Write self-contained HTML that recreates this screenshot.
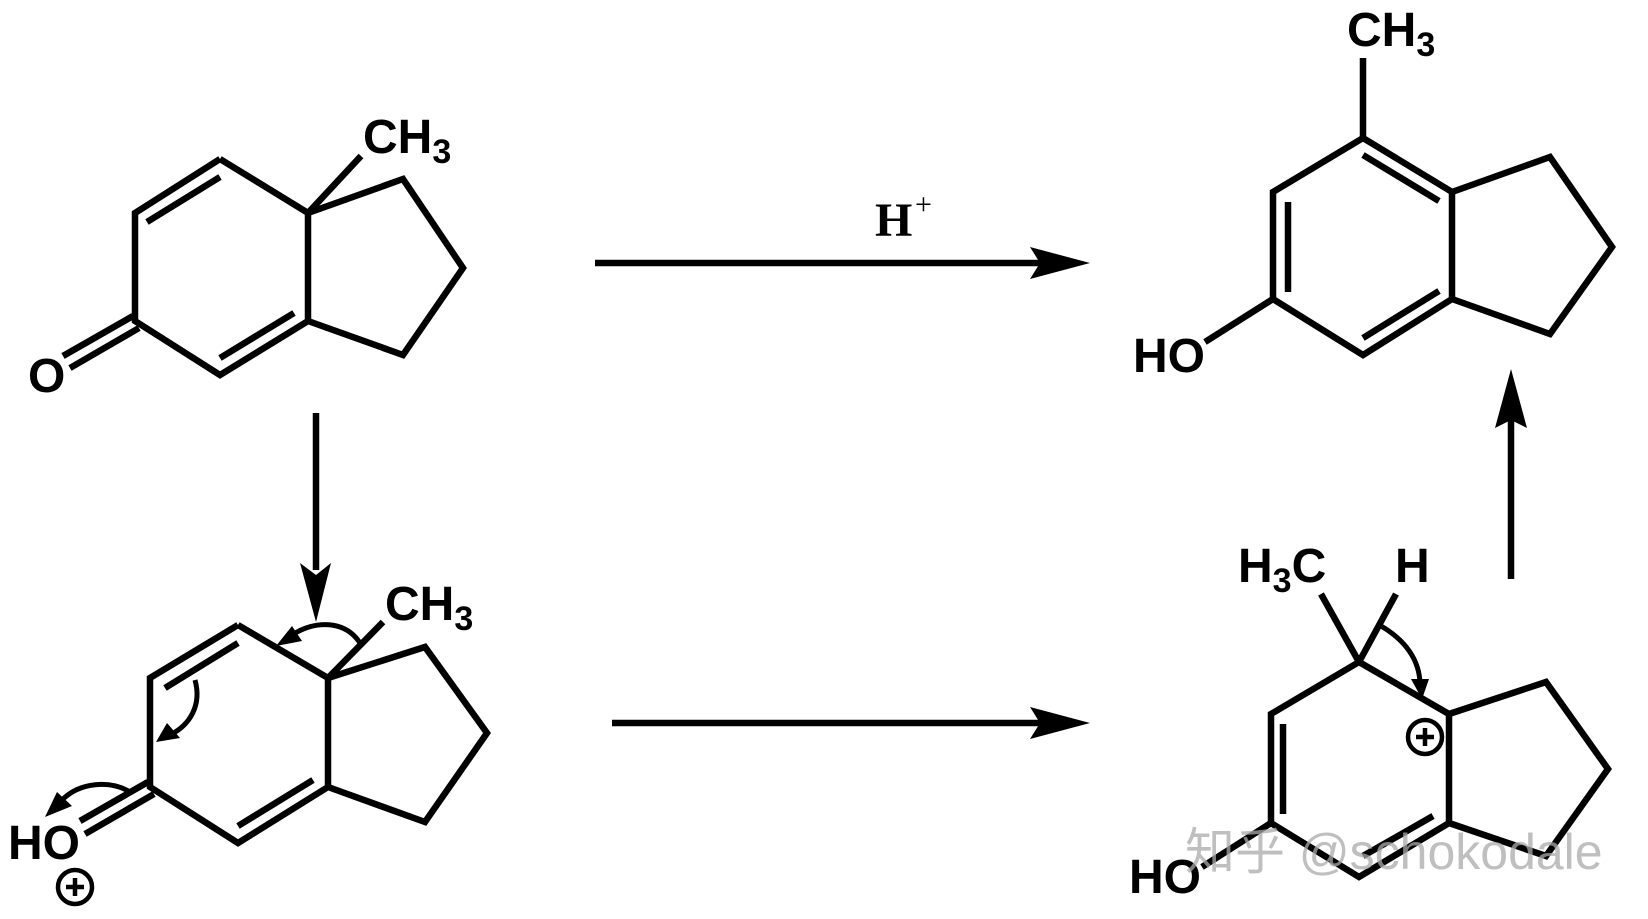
<!DOCTYPE html>
<html><head><meta charset="utf-8"><style>
html,body{margin:0;padding:0;background:#fff;width:1648px;height:919px;overflow:hidden}
svg{display:block}
.t{font-family:"Liberation Sans",sans-serif;font-weight:bold;fill:#000}
</style></head><body>
<svg width="1648" height="919" viewBox="0 0 1648 919" xmlns="http://www.w3.org/2000/svg">
<g stroke="#000" stroke-width="6.5" fill="none" stroke-linejoin="miter" stroke-linecap="butt">
<polyline points="220,159 135,213 135,321 220,375 308,321 308,213 220,159"/>
<polyline points="308,213 403,179 463,268 403,355 308,321"/>
<line x1="308" y1="213" x2="361" y2="156"/>
<line x1="147" y1="222" x2="220" y2="177"/>
<line x1="220" y1="358" x2="294" y2="313"/>
<line x1="133" y1="316" x2="63" y2="356"/>
<line x1="139" y1="328" x2="70" y2="368"/>
<polyline points="238,625 150,678 150,787 238,843 328,787 328,678 238,625"/>
<polyline points="328,678 425,647 487,733 425,822 328,787"/>
<line x1="328" y1="678" x2="383" y2="622"/>
<line x1="165" y1="688" x2="238" y2="643"/>
<line x1="238" y1="826" x2="313" y2="780"/>
<line x1="148" y1="782" x2="80" y2="821"/>
<line x1="154" y1="794" x2="85" y2="834"/>
<polyline points="1363,138 1273,192 1273,299 1363,355 1452,299 1452,192 1363,138"/>
<polyline points="1452,192 1550,157 1612,247 1550,334 1452,299"/>
<line x1="1363" y1="138" x2="1363" y2="58"/>
<line x1="1288" y1="202" x2="1288" y2="292"/>
<line x1="1363" y1="155" x2="1439" y2="201"/>
<line x1="1363" y1="338" x2="1439" y2="291"/>
<line x1="1273" y1="299" x2="1205" y2="342"/>
<polyline points="1359,662 1271,714 1271,823 1359,877 1449,823 1449,714 1359,662"/>
<polyline points="1449,714 1546,682 1608,769 1546,856 1449,823"/>
<line x1="1359" y1="662" x2="1321" y2="594"/>
<line x1="1359" y1="662" x2="1396" y2="594"/>
<line x1="1283" y1="724" x2="1283" y2="814"/>
<line x1="1363" y1="856" x2="1433" y2="816"/>
<line x1="1271" y1="823" x2="1202" y2="867"/>
<line x1="595" y1="263" x2="1045" y2="263"/>
<line x1="612" y1="723" x2="1045" y2="723"/>
<line x1="1511" y1="579" x2="1511" y2="415"/>
<line x1="316" y1="413" x2="316" y2="570"/>
</g>
<g fill="#000">
<polygon points="1090,263 1030,247 1040,263 1030,279"/>
<polygon points="1090,723 1030,707 1040,723 1030,739"/>
<polygon points="1511,369 1495,428 1511,420 1527,428"/>
<polygon points="316,622 300,563 316,575 331,563"/>
</g>
<g stroke="#000" stroke-width="5" fill="none">
<path d="M360,643 C345,620 315,620 292,635"/>
<path d="M195,680 C202,705 190,725 170,735"/>
<path d="M130,792 C110,780 80,782 62,800"/>
<path d="M1381,626 C1405,640 1420,660 1420,685"/>
</g>
<g fill="#000">
<polygon points="276,646 292,626 302,641"/>
<polygon points="156,742 167,723 180,738"/>
<polygon points="45,817 57,792 72,806"/>
<polygon points="1422,699 1411,679 1429,679"/>
</g>
<g stroke="#000" stroke-width="4.5" fill="none">
<circle cx="75" cy="887" r="17"/>
<circle cx="1425" cy="737" r="17"/>
</g>
<g stroke="#000" stroke-width="4.5">
<line x1="66" y1="887" x2="84" y2="887"/><line x1="75" y1="878" x2="75" y2="896"/>
<line x1="1416" y1="737" x2="1434" y2="737"/><line x1="1425" y1="728" x2="1425" y2="746"/>
</g>
<text class="t" x="363" y="153" font-size="48">CH<tspan font-size="34" dy="10">3</tspan></text>
<text class="t" x="28" y="392" font-size="48">O</text>
<text class="t" x="385" y="620" font-size="48">CH<tspan font-size="34" dy="10">3</tspan></text>
<text class="t" x="8" y="859" font-size="48">HO</text>
<text class="t" x="1347" y="46" font-size="48">CH<tspan font-size="34" dy="10">3</tspan></text>
<text class="t" x="1133" y="372" font-size="48">HO</text>
<text class="t" x="1238" y="582" font-size="48">H<tspan font-size="34" dy="10">3</tspan><tspan dy="-10">C</tspan></text>
<text class="t" x="1395" y="582" font-size="48">H</text>
<text class="t" x="1129" y="893" font-size="48">HO</text>
<text x="875" y="236" font-family="Liberation Serif,serif" font-weight="bold" font-size="48">H</text>
<text x="915" y="214" font-family="Liberation Serif,serif" font-size="30">+</text>
<text x="1185" y="869" font-family="Liberation Sans,Noto Sans CJK SC,sans-serif" font-size="50" fill="#aaa" fill-opacity="0.75">知乎 @schokodale</text>
</svg>
</body></html>
